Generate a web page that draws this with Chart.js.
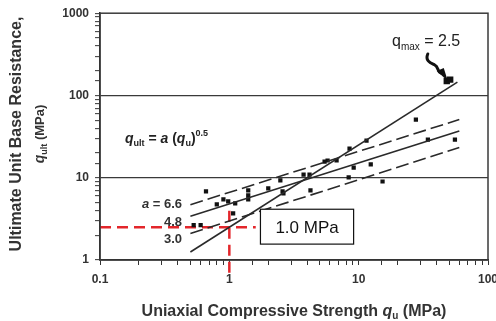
<!DOCTYPE html>
<html>
<head>
<meta charset="utf-8">
<script src="https://cdn.jsdelivr.net/npm/chart.js@4/dist/chart.umd.min.js"></script>
<style>
html,body{margin:0;padding:0;background:#fff;}
#wrap{width:496px;height:321px;position:relative;}
</style>
</head>
<body>
<div id="wrap"><canvas id="c" width="496" height="321"></canvas></div>
<script>
// ---- data ----
const xTickLabels = ['0.1', '1', '10', '100'];
const yTickLabels = ['1', '10', '100', '1000'];

// measured points: qu (MPa), qult (MPa)
const quPoints = [0.66, 0.80, 0.90, 0.98, 1.11, 1.07, 1.40, 1.40, 0.60, 0.53,
                  2.58, 2.48, 2.62, 3.75, 4.17, 4.24, 5.75, 6.75, 5.45, 8.5,
                  11.5, 9.15, 12.4, 8.37, 15.3, 27.7, 34.3, 55.5, 1.40, 2.0];
const qultPoints = [6.83, 4.75, 5.47, 5.17, 4.89, 3.70, 6.11, 5.47, 2.65, 2.65,
                    6.83, 9.3, 6.46, 10.9, 10.9, 7.0, 16.2, 16.2, 15.7, 22.6,
                    28.3, 13.3, 14.5, 10.1, 9.0, 50.7, 29.0, 29.0, 7.0, 7.4];
// cluster at high strength
const quCluster = [48, 51];
const qultCluster = [150, 156];

// fitted lines (end points)
const lineQu = [0.5, 60];
const lineA66 = [4.7, 51];
const lineA48 = [3.4, 37];
const lineA30 = [2.1, 23.3];
const lineQmaxQu = [0.5, 58];
const lineQmax = [1.25, 145];

// red design lines
const designQu = 1.0;
const designQult = 2.5;
const redHorizQu = [0.1, 1.6];
const redVertQult = [0.7, 4.4];

const FONT = "'Liberation Sans', Arial, sans-serif";

function pairs(xs, ys) { return xs.map((x, i) => ({x: x, y: ys[i]})); }
function fmt(v) { return String(+Number(v).toPrecision(6)); }

function drawRich(ctx, parts, x, y, align) {
  let w = 0;
  parts.forEach(p => { ctx.font = p.f; p.w = ctx.measureText(p.t).width; w += p.w; });
  let cx = align === 'center' ? x - w / 2 : align === 'right' ? x - w : x;
  parts.forEach(p => { ctx.font = p.f; ctx.fillText(p.t, cx, y + (p.dy || 0)); cx += p.w; });
}

const decor = {
  id: 'decor',
  afterDatasetsDraw(chart) {
    const ctx = chart.ctx, a = chart.chartArea;
    const xs = chart.scales.x, ys = chart.scales.y;
    ctx.save();
    // frame
    ctx.strokeStyle = '#3a3a3a';
    ctx.lineWidth = 1.5;
    ctx.strokeRect(a.left, a.top, a.right - a.left, a.bottom - a.top);

    // 1.0 MPa box
    const bx1 = xs.getPixelForValue(1.74), bx2 = xs.getPixelForValue(9.14);
    const by1 = ys.getPixelForValue(4.14), by2 = ys.getPixelForValue(1.56);
    ctx.fillStyle = '#fff';
    ctx.fillRect(bx1, by1, bx2 - bx1, by2 - by1);
    ctx.strokeStyle = '#111';
    ctx.lineWidth = 1.2;
    ctx.strokeRect(bx1, by1, bx2 - bx1, by2 - by1);
    ctx.fillStyle = '#111';
    ctx.textBaseline = 'alphabetic';
    ctx.font = '17px ' + FONT;
    ctx.textAlign = 'center';
    ctx.fillText('1.0 MPa', (bx1 + bx2) / 2, (by1 + by2) / 2 + 6);
    ctx.textAlign = 'left';

    // a labels
    ctx.fillStyle = '#333';
    const lx = 182;
    drawRich(ctx, [{t: 'a', f: 'italic bold 13px ' + FONT}, {t: ' = 6.6', f: 'bold 13px ' + FONT}], lx, 208, 'right');
    drawRich(ctx, [{t: '4.8', f: 'bold 13px ' + FONT}], lx, 226, 'right');
    drawRich(ctx, [{t: '3.0', f: 'bold 13px ' + FONT}], lx, 243, 'right');

    // formula
    ctx.fillStyle = '#222';
    drawRich(ctx, [
      {t: 'q', f: 'italic bold 14px ' + FONT},
      {t: 'ult', f: 'bold 9px ' + FONT, dy: 3},
      {t: ' = ', f: 'bold 14px ' + FONT},
      {t: 'a', f: 'italic bold 14px ' + FONT},
      {t: ' (', f: 'bold 14px ' + FONT},
      {t: 'q', f: 'italic bold 14px ' + FONT},
      {t: 'u', f: 'bold 9px ' + FONT, dy: 3},
      {t: ')', f: 'bold 14px ' + FONT},
      {t: '0.5', f: 'bold 9px ' + FONT, dy: -7}
    ], 125, 143, 'left');

    // q_max label
    drawRich(ctx, [
      {t: 'q', f: '16px ' + FONT},
      {t: 'max', f: '10px ' + FONT, dy: 4},
      {t: ' = 2.5', f: '16px ' + FONT}
    ], 392, 46, 'left');

    // squiggle arrow to cluster
    const tx = xs.getPixelForValue(quCluster[0]), ty = ys.getPixelForValue(qultCluster[0]) - 1;
    ctx.strokeStyle = '#111';
    ctx.fillStyle = '#111';
    ctx.lineWidth = 3;
    ctx.lineCap = 'round';
    ctx.beginPath();
    ctx.moveTo(tx - 19, ty - 26);
    ctx.bezierCurveTo(tx - 22, ty - 19, tx - 16, ty - 17, tx - 12, ty - 15);
    ctx.bezierCurveTo(tx - 8, ty - 13, tx - 10, ty - 9, tx - 6, ty - 7);
    ctx.stroke();
    ctx.beginPath();
    ctx.moveTo(tx - 10, ty - 9);
    ctx.lineTo(tx - 3, ty - 12);
    ctx.lineTo(tx + 1, ty + 1);
    ctx.closePath();
    ctx.fill();
    ctx.restore();
  },
  afterDraw(chart) {
    const ctx = chart.ctx;
    ctx.save();
    ctx.fillStyle = '#333';
    ctx.textBaseline = 'alphabetic';
    // y title
    ctx.save();
    ctx.translate(21, 134);
    ctx.rotate(-Math.PI / 2);
    drawRich(ctx, [{t: 'Ultimate Unit Base Resistance,', f: 'bold 16px ' + FONT}], 0, 0, 'center');
    ctx.restore();
    ctx.save();
    ctx.translate(44, 134);
    ctx.rotate(-Math.PI / 2);
    drawRich(ctx, [
      {t: 'q', f: 'italic bold 14px ' + FONT},
      {t: 'ult', f: 'bold 9px ' + FONT, dy: 3},
      {t: ' (MPa)', f: 'bold 13px ' + FONT}
    ], 0, 0, 'center');
    ctx.restore();
    // x title
    drawRich(ctx, [
      {t: 'Uniaxial Compressive Strength ', f: 'bold 16px ' + FONT},
      {t: 'q', f: 'italic bold 16px ' + FONT},
      {t: 'u', f: 'bold 10px ' + FONT, dy: 3},
      {t: ' (MPa)', f: 'bold 16px ' + FONT}
    ], 294, 316, 'center');
    ctx.restore();
  }
};

const lineCommon = {showLine: true, pointRadius: 0, borderColor: '#2a2a2a', borderWidth: 1.6, fill: false, tension: 0};

new Chart(document.getElementById('c'), {
  type: 'scatter',
  data: {
    datasets: [
      Object.assign({label: 'a = 6.6', data: pairs(lineQu, lineA66), borderDash: [13, 5]}, lineCommon),
      Object.assign({label: 'a = 4.8', data: pairs(lineQu, lineA48)}, lineCommon),
      Object.assign({label: 'a = 3.0', data: pairs(lineQu, lineA30), borderDash: [13, 5]}, lineCommon),
      Object.assign({label: 'qmax = 2.5', data: pairs(lineQmaxQu, lineQmax)}, lineCommon),
      {label: 'data', data: pairs(quPoints, qultPoints), pointStyle: 'rect', pointRadius: 3,
       backgroundColor: '#111', borderColor: '#111', borderWidth: 0, showLine: false},
      {label: 'cluster', data: pairs(quCluster, qultCluster), pointStyle: 'rect', pointRadius: 4.5,
       backgroundColor: '#111', borderColor: '#111', borderWidth: 0, showLine: false},
      {label: 'design h', data: [{x: redHorizQu[0], y: designQult}, {x: redHorizQu[1], y: designQult}],
       showLine: true, pointRadius: 0, borderColor: '#e3262b', borderWidth: 2.5, borderDash: [11, 6], clip: false},
      {label: 'design v', data: [{x: designQu, y: redVertQult[0]}, {x: designQu, y: redVertQult[1]}],
       showLine: true, pointRadius: 0, borderColor: '#e3262b', borderWidth: 2.5, borderDash: [11, 6], clip: false}
    ]
  },
  options: {
    responsive: false,
    animation: false,
    layout: {padding: {left: 0, top: 12, right: 8, bottom: 0}},
    plugins: {legend: {display: false}, tooltip: {enabled: false}},
    scales: {
      x: {
        type: 'logarithmic', min: 0.1, max: 100,
        afterFit(s) { s.height = 61; s.paddingLeft = 0; s.paddingRight = 0; },
        border: {display: true, color: '#222', width: 1.5},
        grid: {drawOnChartArea: false, drawTicks: true, tickLength: 5, tickColor: '#333', tickWidth: 1},
        ticks: {
          autoSkip: false, maxRotation: 0, padding: 7, color: '#333',
          font: {family: FONT, size: 12, weight: 'bold'},
          callback: (v) => xTickLabels.includes(fmt(v)) ? fmt(v) : ''
        }
      },
      y: {
        type: 'logarithmic', min: 1, max: 1000,
        afterFit(s) { s.width = 100; },
        border: {display: true, color: '#222', width: 1.5},
        grid: {
          drawOnChartArea: true, drawTicks: true, tickLength: 5, tickColor: '#333', tickWidth: 1,
          color: (c) => (c.tick && (fmt(c.tick.value) === '10' || fmt(c.tick.value) === '100')) ? '#3a3a3a' : 'rgba(0,0,0,0)',
          lineWidth: 1.3
        },
        ticks: {
          autoSkip: false, padding: 6, color: '#333',
          font: {family: FONT, size: 12, weight: 'bold'},
          callback: (v) => yTickLabels.includes(fmt(v)) ? fmt(v) : ''
        }
      }
    }
  },
  plugins: [decor]
});
</script>
</body>
</html>
